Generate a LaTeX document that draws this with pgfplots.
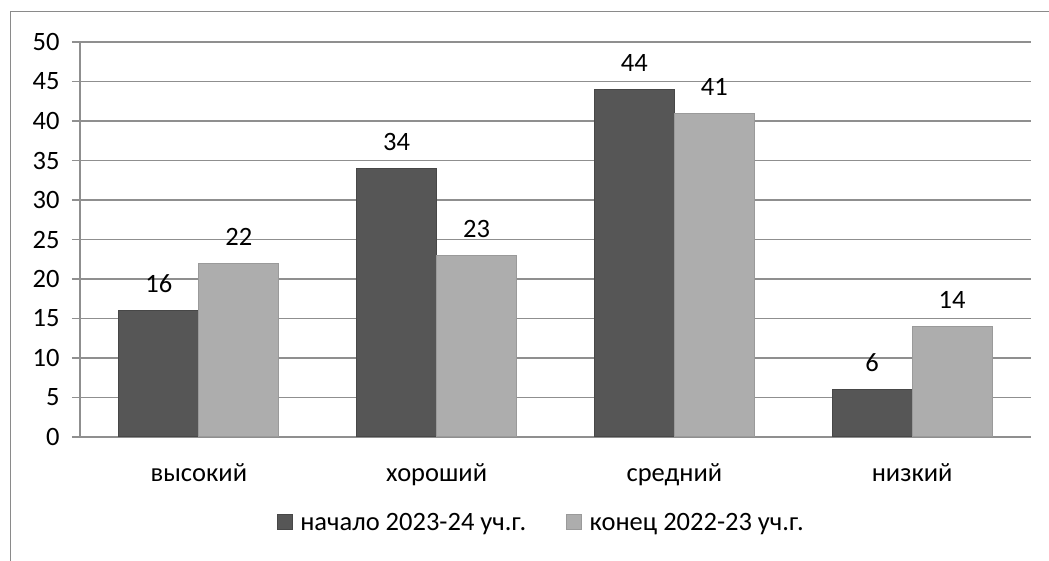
\documentclass[border=0pt]{standalone}
\usepackage{fontspec}
\setmainfont{Carlito}
\usepackage{pgfplots}
\pgfplotsset{compat=1.18}
\definecolor{darkbar}{HTML}{565656}
\definecolor{darkedge}{HTML}{474747}
\definecolor{lightbar}{HTML}{ADADAD}
\definecolor{lightedge}{HTML}{9A9A9A}
\definecolor{gridc}{HTML}{8F8F8F}
\definecolor{framec}{HTML}{8A8A8A}
\begin{document}
\begin{tikzpicture}
\path[use as bounding box] (0,0) rectangle (1049pt,561pt);
\draw[framec, line width=1pt] (10pt,0pt) -- (10pt,549pt) -- (1049pt,549pt);
\begin{axis}[
  at={(80pt,124pt)}, anchor=south west,
  scale only axis, width=951pt, height=395pt,
  ybar=0pt, bar width=80pt,
  xmin=0.5, xmax=4.5, ymin=0, ymax=50,
  axis x line*=bottom, axis y line*=left,
  axis line style={gridc, line width=1.2pt, -},
  xtick={1,2,3,4},
  xticklabels={высокий,хороший,средний,низкий},
  major x tick style={draw=none},
  extra x ticks={0.5,1.5,2.5,3.5,4.5},
  extra x tick labels={},
  extra x tick style={tick style={gridc, line width=1.2pt}, major tick length=8pt, grid=none},
  ytick={0,5,...,50},
  ymajorgrids, grid style={gridc, line width=1.2pt},
  tick align=outside, major tick length=8pt,
  y tick style={gridc, line width=1.2pt},
  tick label style={font=\fontsize{26.5}{31}\selectfont, text=black},
  xticklabel style={yshift=-15pt},
  yticklabel style={xshift=-9pt},
  /pgf/number format/assume math mode=true,
  nodes near coords,
  nodes near coords style={font=\fontsize{26.5}{31}\selectfont, text=black, anchor=south, yshift=14pt},
  legend style={at={(0.485,-0.218)}, anchor=center, draw=none, fill=none,
    legend columns=2, font=\fontsize{26.5}{31}\selectfont,
    /tikz/every even column/.append style={column sep=38pt}},
  legend image code/.code={\fill[#1] (0pt,-6pt) rectangle (15pt,9pt); \path[draw=none,fill=none] (0pt,0pt) -- (21pt,0pt);},
]
\addplot[fill=darkbar, draw=darkedge, line width=1pt] coordinates {(1,16) (2,34) (3,44) (4,6)};
\addplot[fill=lightbar, draw=lightedge, line width=1pt] coordinates {(1,22) (2,23) (3,41) (4,14)};
\legend{начало 2023-24 уч.г., конец 2022-23 уч.г.}
\end{axis}
\end{tikzpicture}
\end{document}
